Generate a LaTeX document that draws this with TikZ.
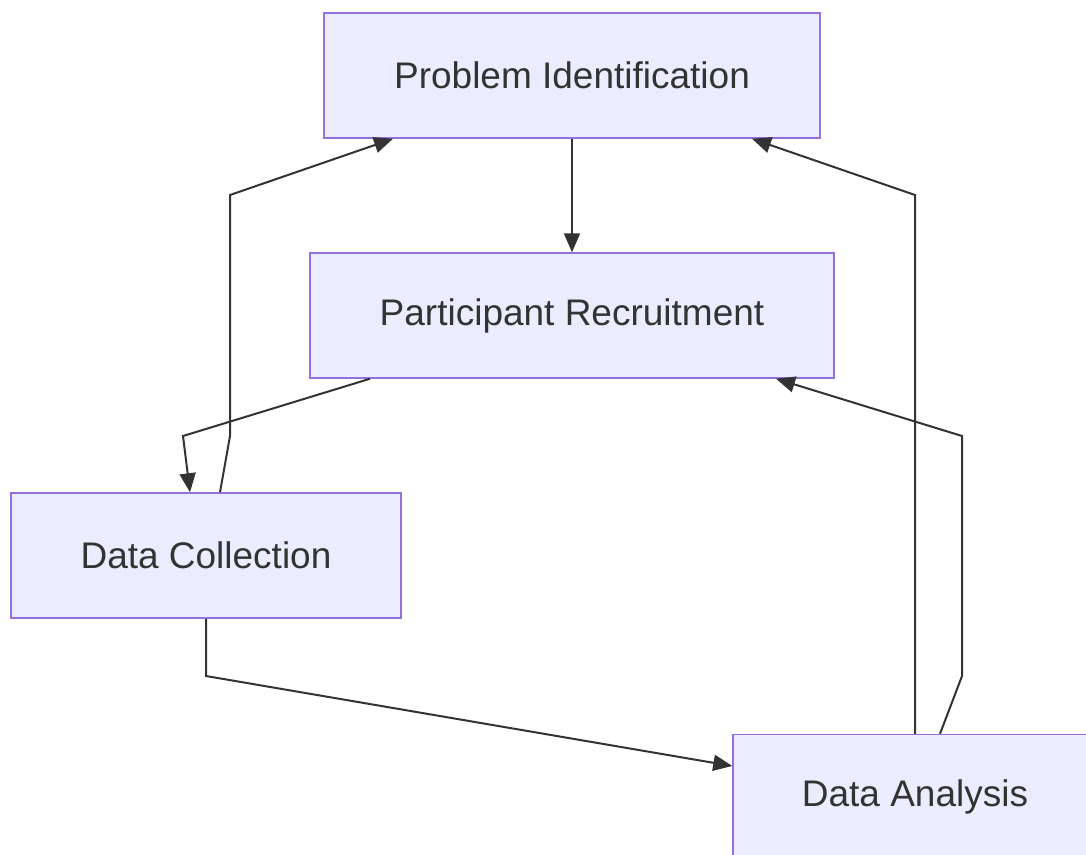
\documentclass[tikz,border=0pt]{standalone}
\usepackage{fontspec}
\setmainfont{Liberation Sans}
\usetikzlibrary{arrows.meta,calc}
\definecolor{boxfill}{HTML}{ECECFF}
\definecolor{boxline}{HTML}{9370DB}
\definecolor{ink}{HTML}{333333}
\tikzset{
  stepbox/.style={draw=boxline, fill=boxfill, line width=1.5pt, rectangle,
    minimum height=125pt, inner sep=0pt, text=ink, font=\fontsize{37}{44}\selectfont},
  link/.style={draw=ink, line width=2pt, -{Triangle[length=19pt,width=16pt]}}
}
\begin{document}
\begin{tikzpicture}[x=1pt,y=-1pt]
  \useasboundingbox (0,0) rectangle (1086,854);
  \clip (0,0) rectangle (1086,854);
  \node[stepbox, minimum width=496pt] (pi) at (572,75.5) {Problem Identification};
  \node[stepbox, minimum width=524pt] (pr) at (572,315.5) {Participant Recruitment};
  \node[stepbox, minimum width=390pt] (dc) at (206,555.5) {Data Collection};
  \node[stepbox, minimum width=364pt] (da) at (915,797) {Data Analysis};

  \draw[link] (pi.south) -- (pr.north);
  \draw[link] ([xshift=-202pt]pr.south) -- (183,436) -- ([xshift=-16pt]dc.north);
  \draw[link] ([xshift=14pt]dc.north) -- (230,436) -- (230,195) -- ([xshift=-179pt]pi.south);
  \draw[link] (dc.south) -- (206,676) -- ([yshift=31pt]da.west);
  \draw[link] (da.north) -- (915,195) -- ([xshift=180pt]pi.south);
  \draw[link] ([xshift=25pt]da.north) -- (962,676) -- (962,436) -- ([xshift=204pt]pr.south);
\end{tikzpicture}
\end{document}
